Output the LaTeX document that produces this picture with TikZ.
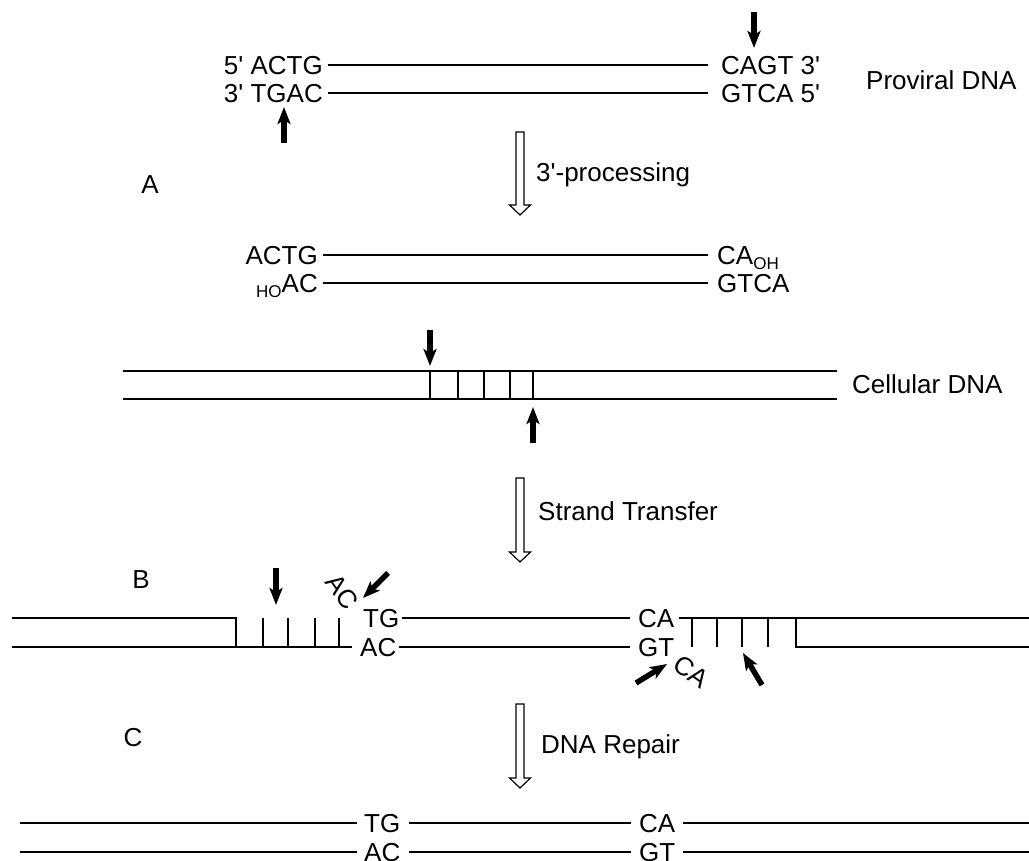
\documentclass[tikz,border=0pt]{standalone}
\usepackage{fontspec}
\setmainfont{Liberation Sans}[Ligatures=TeXOff]
\usetikzlibrary{arrows.meta}
\newcommand\hollowdown[3]{%
  \draw[blockarr] (#1-4,#2) -- (#1+4,#2) -- (#1+4,#3-10) -- (#1+10.5,#3-10)
    -- (#1,#3) -- (#1-10.5,#3-10) -- (#1-4,#3-10) -- cycle;}
\begin{document}
\begin{tikzpicture}[x=1pt,y=-1pt,
  lbl/.style={inner sep=0pt, font=\fontsize{26}{30}\selectfont},
  seq/.style={lbl, text height=18.6pt, text depth=0pt},
  strand/.style={line width=1.3pt},
  cut/.style={line width=5.5pt, -{Stealth[length=17pt,width=13pt,inset=4pt]}},
  blockarr/.style={line width=1.2pt, fill=white, line join=miter}]
\useasboundingbox (0,0) rectangle (1029,861);

% ---------- Proviral DNA ----------
\node[seq, anchor=east] (p5) at (323,65) {5' ACTG};
\node[seq, anchor=west] (p3r) at (721,65) {CAGT 3'};
\node[seq, anchor=east] (p3) at (323,93) {3' TGAC};
\node[seq, anchor=west] (p5r) at (721,93) {GTCA 5'};
\draw[strand] ([xshift=5pt]p5.east) -- ([xshift=-13pt]p3r.west);
\draw[strand] ([xshift=5pt]p3.east) -- ([xshift=-13pt]p5r.west);
\node[lbl, anchor=base west] (prov) at (866,89.5) {Proviral DNA};
\coordinate (k1s) at (754,12); \coordinate (k1e) at (754,48);
\draw[cut] (k1s) -- (k1e);
\coordinate (k2s) at (284,143); \coordinate (k2e) at (284,107);
\draw[cut] (k2s) -- (k2e);

% ---------- step A ----------
\hollowdown{520}{132}{215}
\node[lbl, anchor=base west] (procA) at (536,182) {3'-processing};
\node[lbl] (labA) at (150,185) {A};

% ---------- processed DNA ----------
\node[seq, anchor=east] (q1) at (318,255) {ACTG};
\node[seq, anchor=west] (q2) at (717,255) {CA\raisebox{-5pt}{\fontsize{17}{18}\selectfont OH}};
\node[seq, anchor=east] (q3) at (318,283) {\raisebox{-5pt}{\fontsize{17}{18}\selectfont HO}AC};
\node[seq, anchor=west] (q4) at (717,283) {GTCA};
\draw[strand] ([xshift=5pt]q1.east) -- ([xshift=-9pt]q2.west);
\draw[strand] ([xshift=5pt]q3.east) -- ([xshift=-9pt]q4.west);

% ---------- cellular DNA ----------
\node[lbl, anchor=base west] (cell) at (852,393) {Cellular DNA};
\coordinate (cT1) at (123,371); \coordinate (cT2) at (837,371);
\coordinate (cB1) at (123,399); \coordinate (cB2) at (837,399);
\draw[strand] (cT1) -- (cT2);
\draw[strand] (cB1) -- (cB2);
\foreach \x in {430,458,484,510,533} \draw[strand] (\x,371) -- (\x,399);
\coordinate (k3s) at (430,330); \coordinate (k3e) at (430,366);
\draw[cut] (k3s) -- (k3e);
\coordinate (k4s) at (533,443); \coordinate (k4e) at (533,407);
\draw[cut] (k4s) -- (k4e);

% ---------- step B ----------
\hollowdown{520}{478}{562}
\node[lbl, anchor=base west] (procB) at (538,520) {Strand Transfer};
\node[lbl] (labB) at (141,580) {B};

% ---------- strand transfer product ----------
\node[seq, anchor=west] (sTG) at (363,618) {TG};
\node[seq, anchor=west] (sAC) at (360,647) {AC};
\node[seq, anchor=west] (sCA) at (638,618) {CA};
\node[seq, anchor=west] (sGT) at (638,647) {GT};
\coordinate (sL1) at (12,618); \coordinate (sL2) at (236,618);
\coordinate (sL3) at (236,647); \coordinate (sL4) at (12,647);
\coordinate (sR1) at (1029,618); \coordinate (sR2) at (796,618);
\coordinate (sR3) at (796,647); \coordinate (sR4) at (1029,647);
\draw[strand] (sL1) -- (sL2) -- (sL3);
\draw[strand] (sL4) -- ([xshift=-8pt]sAC.west);
\draw[strand] ([xshift=2pt]sTG.east) -- ([xshift=-8pt]sCA.west);
\draw[strand] ([xshift=2pt]sAC.east) -- ([xshift=-8pt]sGT.west);
\draw[strand] ([xshift=4pt]sCA.east) -- (sR1);
\draw[strand] (sR2) -- (sR3) -- (sR4);
\foreach \x in {263,288,315,339,692,717,742,768} \draw[strand] (\x,618) -- (\x,647);
\node[lbl, rotate=-54] (rAC) at (342,592) {AC};
\node[lbl, rotate=-35] (rCA) at (691,672) {CA};
\coordinate (k5s) at (276,568); \coordinate (k5e) at (276,605);
\draw[cut] (k5s) -- (k5e);
\coordinate (k6s) at (388,573); \coordinate (k6e) at (363,598);
\draw[cut] (k6s) -- (k6e);
\coordinate (k7s) at (636,683); \coordinate (k7e) at (667,664);
\draw[cut] (k7s) -- (k7e);
\coordinate (k8s) at (762,685); \coordinate (k8e) at (743,653);
\draw[cut] (k8s) -- (k8e);

% ---------- step C ----------
\hollowdown{520}{704}{788}
\node[lbl, anchor=base west] (procC) at (541,753) {DNA Repair};
\node[lbl] (labC) at (133,738) {C};

% ---------- repaired DNA ----------
\node[seq, anchor=west] (fTG) at (364,823) {TG};
\node[seq, anchor=west] (fAC) at (364,852) {AC};
\node[seq, anchor=west] (fCA) at (639,823) {CA};
\node[seq, anchor=west] (fGT) at (639,852) {GT};
\coordinate (fL1) at (20,823); \coordinate (fL2) at (20,852);
\coordinate (fR1) at (1029,823); \coordinate (fR2) at (1029,852);
\draw[strand] (fL1) -- ([xshift=-7pt]fTG.west);
\draw[strand] (fL2) -- ([xshift=-7pt]fAC.west);
\draw[strand] ([xshift=8pt]fTG.east) -- ([xshift=-8pt]fCA.west);
\draw[strand] ([xshift=8pt]fAC.east) -- ([xshift=-8pt]fGT.west);
\draw[strand] ([xshift=7pt]fCA.east) -- (fR1);
\draw[strand] ([xshift=7pt]fGT.east) -- (fR2);
\end{tikzpicture}
\end{document}
